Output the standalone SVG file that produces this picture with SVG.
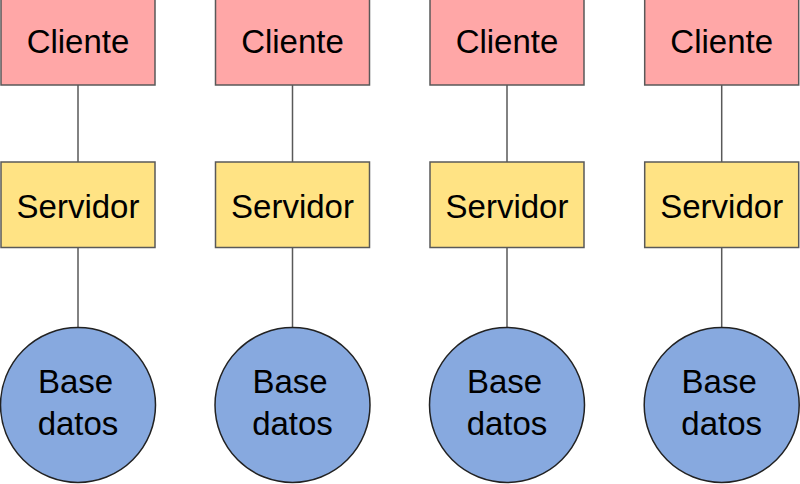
<svg xmlns="http://www.w3.org/2000/svg" width="800" height="484" viewBox="0 0 800 484">
<style>
.c{fill:#ffa7a7;stroke:#595959;stroke-width:1.5}
.s{fill:#ffe384;stroke:#595959;stroke-width:1.5}
.d{fill:#87a9df;stroke:#222;stroke-width:1.5}
.l{stroke:#595959;stroke-width:1.5;fill:none}
text{font-family:"Liberation Sans",Arial,sans-serif;font-size:33px;fill:#000;text-anchor:middle}
</style>
<rect width="800" height="484" fill="#fff"/>
<g id="connectors">
<path class="l" d="M78 85V162M78 247.5V327.5"/>
<path class="l" d="M292.5 85V162M292.5 247.5V327.5"/>
<path class="l" d="M507 85V162M507 247.5V327.5"/>
<path class="l" d="M721.7 85V162M721.7 247.5V327.5"/>
</g>
<g id="cliente1"><rect class="c" x="1" y="-1" width="154" height="86"/><text x="78" y="53">Cliente</text></g>
<g id="servidor1"><rect class="s" x="1" y="162" width="154" height="85.5"/><text x="78" y="218">Servidor</text></g>
<g id="bd1"><circle class="d" cx="78" cy="405" r="77.5"/><text x="75.5" y="393">Base</text><text x="78" y="435">datos</text></g>
<g id="cliente2"><rect class="c" x="215.5" y="-1" width="154" height="86"/><text x="292.5" y="53">Cliente</text></g>
<g id="servidor2"><rect class="s" x="215.5" y="162" width="154" height="85.5"/><text x="292.5" y="218">Servidor</text></g>
<g id="bd2"><circle class="d" cx="292.5" cy="405" r="77.5"/><text x="290" y="393">Base</text><text x="292.5" y="435">datos</text></g>
<g id="cliente3"><rect class="c" x="430" y="-1" width="154" height="86"/><text x="507" y="53">Cliente</text></g>
<g id="servidor3"><rect class="s" x="430" y="162" width="154" height="85.5"/><text x="507" y="218">Servidor</text></g>
<g id="bd3"><circle class="d" cx="507" cy="405" r="77.5"/><text x="504.5" y="393">Base</text><text x="507" y="435">datos</text></g>
<g id="cliente4"><rect class="c" x="644.7" y="-1" width="154" height="86"/><text x="721.7" y="53">Cliente</text></g>
<g id="servidor4"><rect class="s" x="644.7" y="162" width="154" height="85.5"/><text x="721.7" y="218">Servidor</text></g>
<g id="bd4"><circle class="d" cx="721.7" cy="405" r="77.5"/><text x="719.2" y="393">Base</text><text x="721.7" y="435">datos</text></g>
</svg>
